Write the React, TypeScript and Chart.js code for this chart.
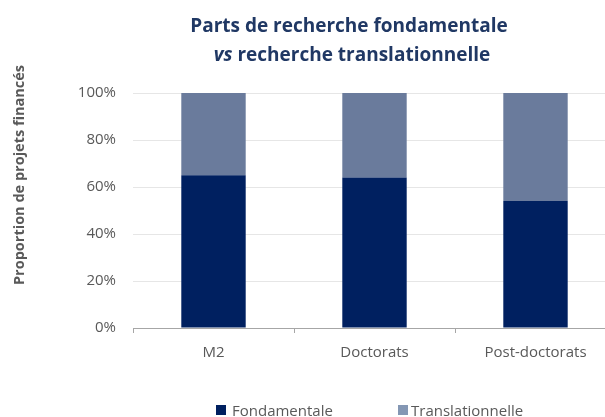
import React, { useEffect, useRef } from "react";
import { Chart, registerables } from "chart.js";

Chart.register(...registerables);

const categories = ["M2", "Doctorats", "Post-doctorats"];
const fondamentale = [65, 64, 54];
const translationnelle = [35, 36, 46];
const seriesNames = ["Fondamentale", "Translationnelle"];
const titleLine1 = "Parts de recherche fondamentale";
const titleLine2Italic = "vs";
const titleLine2Rest = " recherche translationnelle";
const yAxisTitle = "Proportion de projets financés";
const yTickValues = [0, 20, 40, 60, 80, 100];

const FONT = "'Open Sans', 'DejaVu Sans', sans-serif";
const NAVY = "#002060";
const SLATE = "#6A7B9C";
const LEGEND_SLATE = "#8497B4";
const GREY_TEXT = "#595959";
const TITLE_COLOR = "#203864";

const overlayPlugin = {
  id: "overlay",
  afterDraw(chart: any) {
    const ctx = chart.ctx as CanvasRenderingContext2D;
    ctx.save();
    // Title
    ctx.fillStyle = TITLE_COLOR;
    ctx.textBaseline = "alphabetic";
    ctx.textAlign = "left";
    ctx.font = `bold 19px ${FONT}`;
    const w1 = ctx.measureText(titleLine1).width;
    ctx.fillText(titleLine1, 349 - w1 / 2, 32);
    ctx.font = `italic bold 19px ${FONT}`;
    const wi = ctx.measureText(titleLine2Italic).width;
    ctx.font = `bold 19px ${FONT}`;
    const wr = ctx.measureText(titleLine2Rest).width;
    const start2 = 352 - (wi + wr) / 2;
    ctx.font = `italic bold 19px ${FONT}`;
    ctx.fillText(titleLine2Italic, start2, 61);
    ctx.font = `bold 19px ${FONT}`;
    ctx.fillText(titleLine2Rest, start2 + wi, 61);

    // Y axis title
    ctx.save();
    ctx.translate(20, 175);
    ctx.rotate(-Math.PI / 2);
    ctx.textAlign = "center";
    ctx.textBaseline = "middle";
    ctx.fillStyle = GREY_TEXT;
    ctx.font = `bold 14.5px ${FONT}`;
    ctx.fillText(yAxisTitle, 0, 0);
    ctx.restore();

    // Legend
    const items = [
      { label: seriesNames[0], color: NAVY, box: 216, text: 232 },
      { label: seriesNames[1], color: LEGEND_SLATE, box: 398, text: 411 },
    ];
    ctx.font = `15px ${FONT}`;
    ctx.textBaseline = "alphabetic";
    ctx.textAlign = "left";
    for (const it of items) {
      ctx.fillStyle = it.color;
      ctx.fillRect(it.box, 405, 10, 10);
      ctx.fillStyle = GREY_TEXT;
      ctx.fillText(it.label, it.text, 416);
    }
    ctx.restore();
  },
};

export default function App() {
  const canvasRef = useRef<HTMLCanvasElement | null>(null);

  useEffect(() => {
    if (!canvasRef.current) return;
    const chart = new Chart(canvasRef.current, {
      type: "bar",
      data: {
        labels: categories,
        datasets: [
          {
            label: seriesNames[0],
            data: fondamentale,
            backgroundColor: NAVY,
            barPercentage: 0.4,
            categoryPercentage: 1.0,
          },
          {
            label: seriesNames[1],
            data: translationnelle,
            backgroundColor: SLATE,
            barPercentage: 0.4,
            categoryPercentage: 1.0,
          },
        ],
      },
      options: {
        responsive: false,
        maintainAspectRatio: false,
        animation: false,
        devicePixelRatio: 1,
        layout: { padding: { left: 0, top: 93, right: 9, bottom: 49 } },
        plugins: {
          legend: { display: false },
          title: { display: false },
          tooltip: { enabled: false },
        },
        scales: {
          x: {
            stacked: true,
            afterFit: (s: any) => {
              s.height = 40;
            },
            grid: {
              display: true,
              offset: true,
              drawOnChartArea: false,
              drawTicks: true,
              tickLength: 5,
              color: "#A6A6A6",
            },
            border: { display: true, color: "#A6A6A6", width: 1 },
            ticks: {
              color: GREY_TEXT,
              font: { family: FONT, size: 15 },
              padding: 11,
            },
          },
          y: {
            stacked: true,
            min: 0,
            max: 100,
            afterFit: (s: any) => {
              s.width = 133;
            },
            afterBuildTicks: (s: any) => {
              s.ticks = yTickValues.map((v) => ({ value: v }));
            },
            grid: { color: "#E6E6E6", drawTicks: false },
            border: { display: false },
            ticks: {
              color: GREY_TEXT,
              font: { family: FONT, size: 15 },
              padding: 17,
              callback: (v: any) => `${v}%`,
            },
          },
        },
      },
      plugins: [overlayPlugin],
    });
    return () => chart.destroy();
  }, []);

  return (
    <div
      style={{
        position: "fixed",
        left: 0,
        top: 0,
        width: 605,
        height: 417,
        overflow: "hidden",
        background: "#fff",
      }}
    >
      <canvas ref={canvasRef} width={625} height={417} style={{ display: "block" }} />
    </div>
  );
}
